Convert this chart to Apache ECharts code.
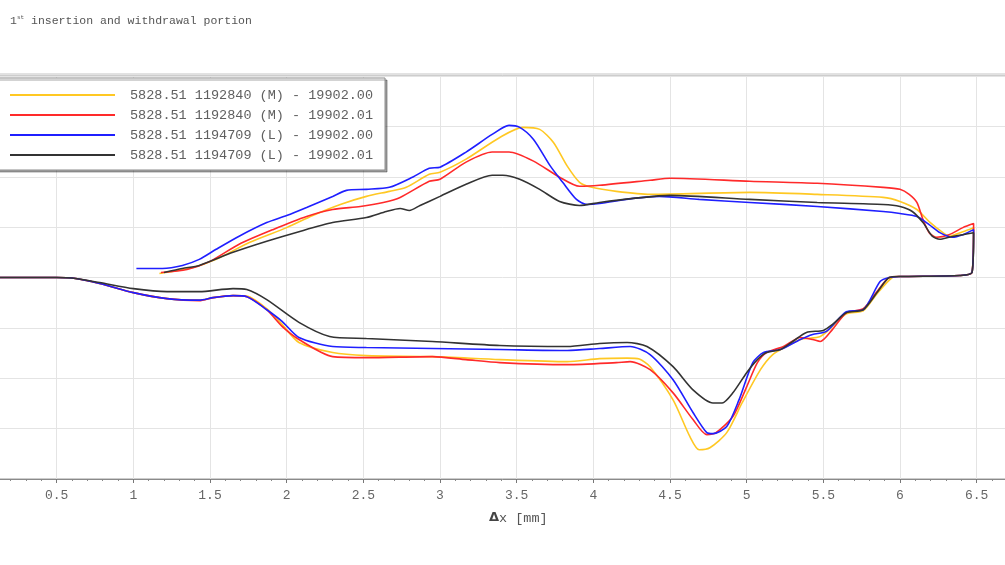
<!DOCTYPE html>
<html><head><meta charset="utf-8">
<script src="https://cdn.jsdelivr.net/npm/echarts@6/dist/echarts.min.js"></script>
<style>html,body{margin:0;padding:0;background:#fff}#c{width:1005px;height:565px}</style>
</head><body><div id="c"></div>
<script>
const seriesNames = ['5828.51 1192840 (M) - 19902.00','5828.51 1192840 (M) - 19902.01','5828.51 1194709 (L) - 19902.00','5828.51 1194709 (L) - 19902.01'];
const seriesColors = ['#ffc823','#ff2a2a','#1f1fff','#333333'];
const xTicks = [0,0.5,1,1.5,2,2.5,3,3.5,4,4.5,5,5.5,6,6.5];

const yellow = [[0,0],[0.5,0],[0.6,-0.01],[0.78,-0.12],[1.0,-0.30],[1.22,-0.42],[1.43,-0.45],[1.52,-0.40],[1.65,-0.36],[1.74,-0.37],[1.87,-0.62],[1.97,-0.93],[2.08,-1.29],[2.30,-1.49],[2.52,-1.55],[2.95,-1.57],[3.39,-1.63],[3.83,-1.67],[4.04,-1.61],[4.22,-1.60],[4.30,-1.62],[4.37,-1.77],[4.52,-2.43],[4.63,-3.16],[4.69,-3.42],[4.76,-3.38],[4.87,-3.08],[4.97,-2.49],[5.09,-1.83],[5.17,-1.53],[5.26,-1.37],[5.35,-1.23],[5.48,-1.17],[5.56,-0.97],[5.65,-0.72],[5.76,-0.66],[5.85,-0.32],[5.95,0],[6.0,0.02],[6.39,0.04],[6.47,0.10],[6.48,0.99],
[6.41,0.91],[6.32,0.82],[6.28,0.89],[6.19,1.11],[6.11,1.35],[6.0,1.51],[5.89,1.59],[5.46,1.65],[5.02,1.69],[4.37,1.65],[4.15,1.71],[3.99,1.79],[3.91,1.89],[3.83,2.21],[3.74,2.68],[3.65,2.94],[3.54,2.98],[3.39,2.78],[3.17,2.35],[3.0,2.09],[2.93,2.05],[2.78,1.79],[2.67,1.71],[2.52,1.61],[2.35,1.45],[2.17,1.23],[2.0,0.99],[1.76,0.70],[1.54,0.36],[1.39,0.20],[1.17,0.08]];

const red = [[0,0],[0.5,0],[0.6,-0.01],[0.78,-0.12],[1.0,-0.30],[1.22,-0.42],[1.43,-0.46],[1.52,-0.40],[1.65,-0.36],[1.74,-0.38],[1.87,-0.64],[1.97,-0.97],[2.08,-1.23],[2.30,-1.57],[2.52,-1.59],[2.95,-1.57],[3.17,-1.63],[3.39,-1.69],[3.83,-1.73],[4.15,-1.69],[4.24,-1.67],[4.37,-1.83],[4.52,-2.29],[4.65,-2.82],[4.74,-3.12],[4.80,-3.08],[4.91,-2.76],[5.0,-2.17],[5.07,-1.69],[5.13,-1.49],[5.24,-1.37],[5.35,-1.19],[5.43,-1.23],[5.48,-1.27],[5.56,-1.03],[5.65,-0.70],[5.76,-0.62],[5.85,-0.28],[5.93,0],[6.0,0.02],[6.39,0.04],[6.47,0.10],[6.48,1.07],
[6.41,0.99],[6.32,0.85],[6.24,0.80],[6.19,0.89],[6.15,1.15],[6.11,1.49],[6.06,1.65],[6.0,1.75],[5.89,1.79],[5.46,1.87],[5.02,1.91],[4.50,1.97],[4.37,1.93],[4.04,1.83],[3.91,1.81],[3.78,1.99],[3.61,2.31],[3.45,2.49],[3.34,2.49],[3.17,2.29],[3.0,1.95],[2.93,1.91],[2.74,1.59],[2.63,1.49],[2.48,1.41],[2.30,1.35],[2.13,1.21],[1.91,0.95],[1.69,0.66],[1.50,0.32],[1.35,0.16],[1.18,0.10]];

const blue = [[0,0],[0.5,0],[0.6,-0.01],[0.78,-0.12],[1.0,-0.30],[1.22,-0.42],[1.43,-0.45],[1.52,-0.40],[1.65,-0.36],[1.74,-0.38],[1.87,-0.64],[1.97,-0.87],[2.08,-1.19],[2.30,-1.37],[2.52,-1.39],[2.95,-1.41],[3.39,-1.43],[3.83,-1.45],[4.04,-1.41],[4.24,-1.37],[4.37,-1.53],[4.52,-2.03],[4.65,-2.68],[4.74,-3.08],[4.78,-3.10],[4.87,-2.96],[4.95,-2.43],[5.04,-1.69],[5.11,-1.49],[5.22,-1.43],[5.35,-1.23],[5.43,-1.13],[5.52,-1.07],[5.65,-0.68],[5.76,-0.64],[5.87,-0.08],[5.93,0],[6.0,0.02],[6.39,0.04],[6.47,0.10],[6.48,0.95],
[6.41,0.85],[6.34,0.80],[6.26,0.89],[6.19,1.05],[6.11,1.21],[6.0,1.27],[5.89,1.31],[5.46,1.41],[5.02,1.49],[4.69,1.55],[4.43,1.61],[4.26,1.57],[4.04,1.47],[3.96,1.45],[3.89,1.55],[3.80,1.89],[3.72,2.21],[3.61,2.74],[3.52,2.98],[3.45,3.02],[3.34,2.84],[3.17,2.49],[3.0,2.19],[2.93,2.17],[2.82,1.99],[2.67,1.79],[2.52,1.75],[2.39,1.73],[2.30,1.61],[2.13,1.39],[2.0,1.23],[1.87,1.09],[1.69,0.82],[1.54,0.56],[1.43,0.36],[1.32,0.24],[1.19,0.18],[1.02,0.18]];

const black = [[0,0],[0.5,0],[0.6,-0.01],[0.78,-0.10],[1.0,-0.22],[1.22,-0.28],[1.43,-0.28],[1.65,-0.22],[1.74,-0.24],[1.87,-0.44],[2.08,-0.89],[2.28,-1.17],[2.52,-1.21],[2.95,-1.27],[3.39,-1.35],[3.83,-1.37],[4.04,-1.31],[4.22,-1.29],[4.35,-1.37],[4.52,-1.77],[4.65,-2.23],[4.78,-2.49],[4.84,-2.49],[4.91,-2.29],[5.0,-1.89],[5.07,-1.63],[5.13,-1.49],[5.22,-1.43],[5.30,-1.27],[5.39,-1.09],[5.50,-1.05],[5.56,-0.93],[5.65,-0.70],[5.76,-0.64],[5.85,-0.30],[5.93,0],[6.0,0.02],[6.39,0.04],[6.47,0.10],[6.48,0.89],
[6.41,0.85],[6.32,0.80],[6.26,0.76],[6.21,0.82],[6.15,1.09],[6.08,1.31],[6.0,1.41],[5.89,1.45],[5.46,1.49],[5.02,1.55],[4.50,1.63],[4.26,1.57],[4.04,1.49],[3.91,1.43],[3.78,1.51],[3.65,1.75],[3.52,1.95],[3.41,2.03],[3.34,2.03],[3.17,1.85],[3.0,1.61],[2.87,1.43],[2.80,1.33],[2.74,1.37],[2.65,1.31],[2.52,1.19],[2.30,1.09],[2.08,0.91],[1.87,0.72],[1.65,0.50],[1.43,0.24],[1.32,0.18],[1.20,0.10]];

const allData = [yellow, red, blue, black];
const mono = '"Liberation Mono","DejaVu Sans Mono",monospace';

const chart = echarts.init(document.getElementById('c'), null, {renderer: 'canvas'});
chart.setOption({
  animation: false,
  backgroundColor: '#fff',
  title: {
    text: '1{s|st} insertion and withdrawal portion',
    left: 5, top: 9,
    textStyle: {
      fontFamily: mono, fontSize: 11.5, fontWeight: 'normal', color: '#555',
      rich: { s: { fontFamily: mono, fontSize: 6, color: '#555', verticalAlign: 'top', lineHeight: 14 } }
    }
  },
  grid: { left: -20, right: -10, top: 76, bottom: 86, show: true, borderColor: '#9a9a9a', borderWidth: 1, outerBoundsMode: 'none', containLabel: false },
  legend: {
    orient: 'vertical', left: -10, top: 78,
    padding: [10, 12, 8, 20],
    itemGap: 6, itemWidth: 105, itemHeight: 2,
    icon: 'rect',
    backgroundColor: '#fff', borderColor: '#8a8a8a', borderWidth: 1,
    shadowColor: 'rgba(0,0,0,0.35)', shadowBlur: 0, shadowOffsetX: 2, shadowOffsetY: 2,
    textStyle: { fontFamily: mono, fontSize: 13.5, color: '#606060', padding: [0, 0, 0, 10], lineHeight: 14 },
    data: seriesNames,
    selectedMode: false
  },
  xAxis: {
    type: 'value', min: 0, max: 6.75, interval: 0.5,
    axisLine: { show: true, onZero: false, lineStyle: { color: '#8a8a8a', width: 1 } },
    axisTick: { show: true, length: 4, lineStyle: { color: '#777' } },
    minorTick: { show: true, splitNumber: 5, length: 2, lineStyle: { color: '#888' } },
    splitLine: { show: true, lineStyle: { color: '#e4e4e4', width: 1 } },
    axisLabel: {
      fontFamily: mono, fontSize: 13, color: '#666', margin: 10,
      formatter: v => xTicks.includes(v) ? String(v) : ''
    }
  },
  yAxis: {
    type: 'value', min: -4, max: 4, interval: 1,
    axisLine: { show: false }, axisTick: { show: false }, axisLabel: { show: false },
    splitLine: { show: true, lineStyle: { color: '#e4e4e4', width: 1 } }
  },
  graphic: [
    { type: 'line', shape: { x1: 0, y1: 74, x2: 1005, y2: 74 }, style: { stroke: '#c4c4c4', lineWidth: 1 }, z: 100 },
    { type: 'text', left: 489, top: 511, style: { text: '{d|Δ}x [mm]', font: '13.5px ' + mono, fill: '#555',
        rich: { d: { fontFamily: '"DejaVu Sans", sans-serif', fontSize: 13, fontWeight: 'bold', fill: '#444' } } } }
  ],
  series: allData.map((d, i) => ({
    name: seriesNames[i], type: 'line', data: d,
    symbol: 'none', smooth: 0.25,
    lineStyle: { color: seriesColors[i], width: 1.6 },
    itemStyle: { color: seriesColors[i] },
    z: 2 + i
  }))
});
</script></body></html>
